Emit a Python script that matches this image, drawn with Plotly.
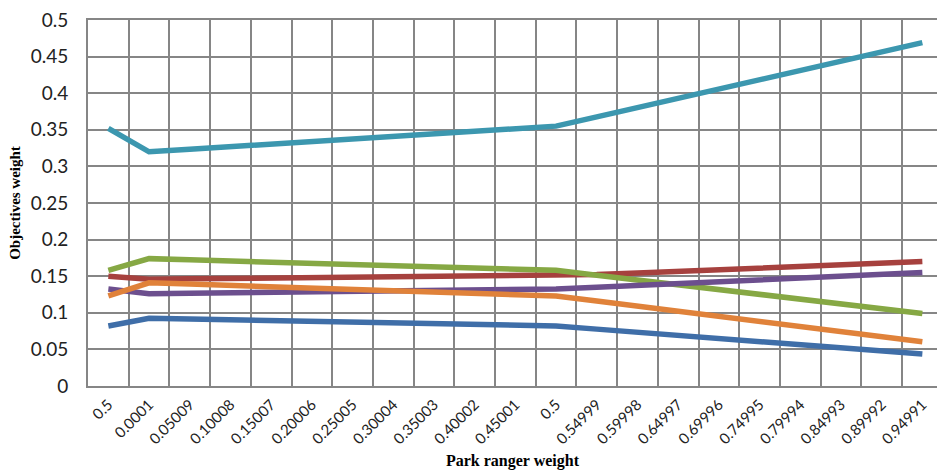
import plotly.graph_objects as go

categories = ["0.5", "0.0001", "0.05009", "0.10008", "0.15007", "0.20006", "0.25005",
              "0.30004", "0.35003", "0.40002", "0.45001", "0.5", "0.54999", "0.59998",
              "0.64997", "0.69996", "0.74995", "0.79994", "0.84993", "0.89992", "0.94991"]

blue = [0.082, 0.0925, 0.0915, 0.0905, 0.0894, 0.0884, 0.0873, 0.0862, 0.0852, 0.0841, 0.0831, 0.082,
        0.0777, 0.0735, 0.0692, 0.0650, 0.0607, 0.0565, 0.0522, 0.0480, 0.0437]
red = [0.150, 0.146, 0.1464, 0.1468, 0.1472, 0.1476, 0.148, 0.1484, 0.1488, 0.1492, 0.1496, 0.150,
       0.1522, 0.1544, 0.1567, 0.1589, 0.1611, 0.1633, 0.1656, 0.1678, 0.170]
green = [0.158, 0.174, 0.1724, 0.1708, 0.1692, 0.1676, 0.166, 0.1644, 0.1628, 0.1612, 0.1596, 0.158,
         0.1514, 0.1449, 0.1383, 0.1318, 0.1252, 0.1187, 0.1121, 0.1056, 0.099]
purple = [0.1325, 0.126, 0.1267, 0.1273, 0.128, 0.1286, 0.1293, 0.1299, 0.1306, 0.1312, 0.1319, 0.1325,
          0.135, 0.1375, 0.14, 0.1425, 0.145, 0.1475, 0.15, 0.1525, 0.155]
teal = [0.352, 0.320, 0.3235, 0.327, 0.3305, 0.334, 0.3375, 0.341, 0.3445, 0.348, 0.3515, 0.355,
        0.3677, 0.3803, 0.393, 0.4057, 0.4183, 0.431, 0.4437, 0.4563, 0.469]
orange = [0.123, 0.141, 0.1392, 0.1374, 0.1356, 0.1338, 0.132, 0.1302, 0.1284, 0.1266, 0.1248, 0.123,
          0.1161, 0.1091, 0.1022, 0.0953, 0.0883, 0.0814, 0.0744, 0.0675, 0.0605]

series = [
    ("Series1", blue, "#3F6EA8"),
    ("Series2", red, "#A6413E"),
    ("Series3", green, "#86A844"),
    ("Series4", purple, "#6C4F8E"),
    ("Series5", teal, "#3C97AF"),
    ("Series6", orange, "#E0823A"),
]

x = list(range(len(categories)))

fig = go.Figure()
for name, vals, color in series:
    fig.add_trace(go.Scatter(x=x, y=vals, mode="lines", name=name,
                             line=dict(color=color, width=5.5)))

grid = "#868686"
fig.update_layout(
    width=937, height=470,
    margin=dict(l=88, r=0, t=20, b=84),
    plot_bgcolor="white", paper_bgcolor="white",
    showlegend=False,
    xaxis=dict(
        range=[-0.5, 20.36],
        automargin=False,
        tickmode="array", tickvals=x, ticktext=categories,
        tickangle=-45,
        tickfont=dict(family="Lato", size=15, color="#222222"),
        showgrid=False, zeroline=False,
        showline=True, linecolor=grid, linewidth=2, mirror=True,
        ticks="", ticklabelstandoff=2,
        minor=dict(tick0=-0.5, dtick=1, showgrid=True, gridcolor=grid, gridwidth=2),
        title=dict(text="<b>Park ranger weight</b>",
                   font=dict(family="Liberation Serif", size=16, color="black"),
                   standoff=10),
    ),
    yaxis=dict(
        range=[0, 0.5], dtick=0.05, tick0=0,
        automargin=False,
        tickformat="~g",
        tickfont=dict(family="Lato", size=19, color="#222222"),
        showgrid=True, gridcolor=grid, gridwidth=2,
        zeroline=False,
        showline=True, linecolor=grid, linewidth=2,
        ticks="", ticklabelstandoff=14,
        title=dict(text="<b>Objectives weight</b>",
                   font=dict(family="Liberation Serif", size=15, color="black"),
                   standoff=6),
    ),
)

fig.write_html("out.html",
               config={"displayModeBar": False},
               post_script="document.body.style.margin='0';document.body.style.overflow='hidden';")
